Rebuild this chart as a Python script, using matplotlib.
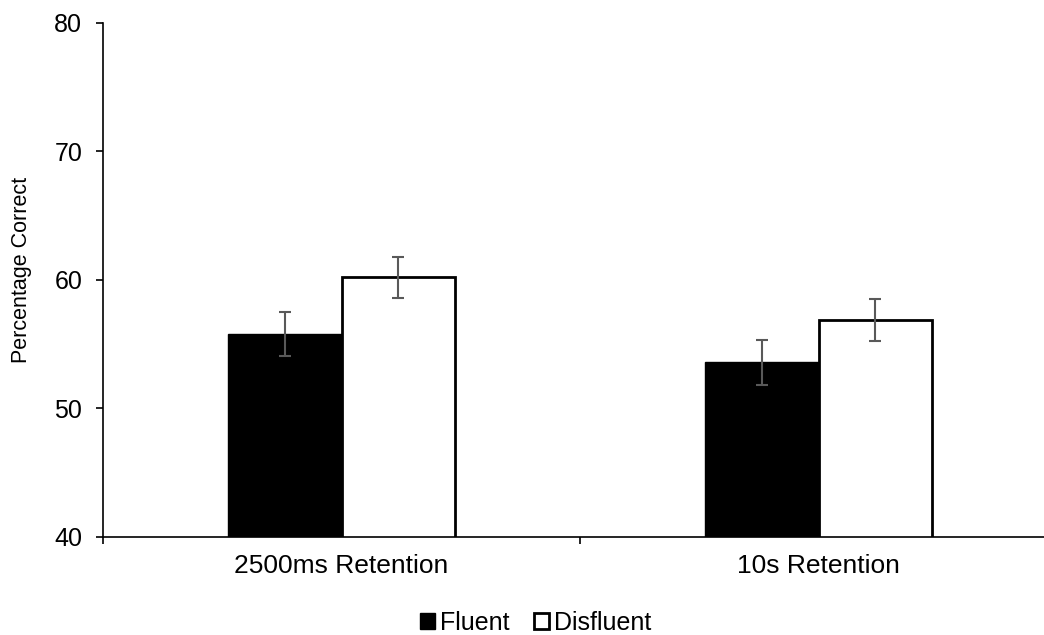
import numpy as np
import matplotlib
matplotlib.use("Agg")
import matplotlib.pyplot as plt

plt.rcParams["font.family"] = ["Liberation Sans", "DejaVu Sans"]

# ── Data ──────────────────────────────────────────────────────────────────────
categories = ["2500ms Retention", "10s Retention"]
fluent     = [55.8, 53.6]
disfluent  = [60.2, 56.9]
fluent_err    = [1.7, 1.75]
disfluent_err = [1.6, 1.65]

# ── Plot ──────────────────────────────────────────────────────────────────────
fig = plt.figure(figsize=(10.44, 6.35), dpi=100)
ax = fig.add_axes([103 / 1044, 98 / 635, 954 / 1044, 514 / 635])

x = np.arange(len(categories))
w = 0.237
err_kw = dict(ecolor="#595959", elinewidth=1.5, capsize=4, capthick=1.5)

ax.bar(x - w / 2, fluent, w, color="black", edgecolor="black",
       linewidth=1, yerr=fluent_err, error_kw=err_kw, label="Fluent")
ax.bar(x + w / 2, disfluent, w, color="white", edgecolor="black",
       linewidth=2, yerr=disfluent_err, error_kw=err_kw, label="Disfluent")

ax.set_xlim(-0.5, 1.5)
ax.set_ylim(40, 80)
ax.set_yticks([40, 50, 60, 70, 80])
ax.set_xticks([-0.5, 0.5], labels=[])
ax.set_xticks(x, labels=categories, minor=True)
ax.tick_params(axis="x", which="minor", length=0, labelsize=19, pad=12)
ax.tick_params(axis="x", which="major", length=5, width=1.2)
ax.tick_params(axis="y", length=5, width=1.2, labelsize=18, pad=10)

ax.set_ylabel("Percentage Correct", fontsize=15.5)
ax.yaxis.set_label_coords(-0.074, 0.52)
ax.spines[["top", "right"]].set_visible(False)
for s in ["left", "bottom"]:
    ax.spines[s].set_linewidth(1.2)

fig.legend(loc="center", bbox_to_anchor=(0.513, 0.019), ncol=2, frameon=False,
           fontsize=18, handlelength=0.6, handleheight=0.6,
           handletextpad=0.2, columnspacing=1.0)

plt.savefig("out.png", dpi=100)
